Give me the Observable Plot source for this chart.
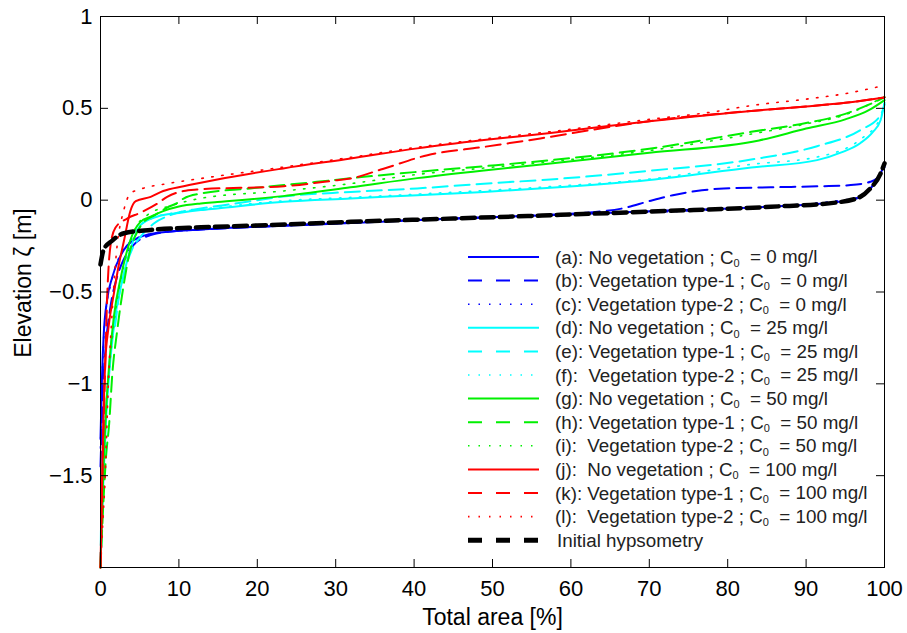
<!DOCTYPE html>
<html><head><meta charset="utf-8">
<script src="https://cdn.jsdelivr.net/npm/d3@7"></script>
<script src="https://cdn.jsdelivr.net/npm/@observablehq/plot@0.6"></script>
<style>body{margin:0;background:#fff}svg{display:block}</style>
</head><body><div id="chart"></div>
<script>
// ---- data: [total area %, elevation m] ----
const seriesA = [[0,-1.3],[0.2,-0.95],[0.4,-0.74],[0.85,-0.54],[1.5,-0.42],[3,-0.27],[5.1,-0.2],[7.2,-0.178],[12.8,-0.16],[20,-0.145],[32,-0.125],[45,-0.1],[57,-0.082],[70,-0.06],[85.5,-0.035],[94,-0.01],[97,0.018],[98.2,0.064],[99.5,0.145],[100,0.2]];
const seriesB = [[0,-1.45],[0.3,-1.05],[0.7,-0.78],[1.2,-0.6],[2.1,-0.42],[3,-0.32],[4.2,-0.245],[6.4,-0.19],[9,-0.17],[12.8,-0.16],[20,-0.145],[32,-0.122],[45,-0.1],[57,-0.08],[62,-0.068],[66.7,-0.044],[70,-0.005],[73,0.027],[76,0.05],[79.5,0.064],[85.5,0.07],[92,0.076],[95.7,0.082],[98.2,0.1],[99.5,0.136],[100,0.18]];
const seriesC = [[0,-1.35],[0.3,-0.85],[0.7,-0.6],[1.3,-0.46],[2.5,-0.3],[4.5,-0.21],[7,-0.18],[12.8,-0.16],[32,-0.124],[57,-0.082],[85.5,-0.034],[97,0.018],[98.2,0.064],[99.5,0.145],[100,0.2]];
const seriesD = [[0,-2],[0.3,-1.6],[0.7,-1.2],[1.3,-0.85],[2,-0.6],[2.8,-0.435],[4.2,-0.218],[5.1,-0.136],[7.2,-0.09],[10,-0.07],[12.8,-0.054],[14.9,-0.045],[23.4,-0.009],[31.9,0.009],[40.4,0.027],[48.9,0.045],[57.4,0.067],[70,0.11],[83,0.178],[91.4,0.218],[94.5,0.26],[96.9,0.31],[98.5,0.37],[99.5,0.435],[100,0.53]];
const seriesE = [[0,-2],[0.13,-1.6],[0.4,-1.34],[0.85,-1.07],[1.3,-0.8],[1.9,-0.67],[2.3,-0.54],[3,-0.4],[4,-0.27],[5.1,-0.2],[6.8,-0.127],[9,-0.08],[12.8,-0.045],[17,-0.02],[23.3,0.02],[31.9,0.045],[40.4,0.064],[48.9,0.09],[57.4,0.113],[70,0.16],[83,0.221],[91.4,0.294],[96.9,0.381],[99.5,0.463],[100,0.52]];
const seriesF = [[0,-2],[0.3,-1.5],[0.8,-1.05],[1.5,-0.75],[2.3,-0.5],[3.3,-0.3],[4.6,-0.16],[6.5,-0.1],[10,-0.065],[14.9,-0.04],[23.4,-0.003],[31.9,0.015],[40.4,0.033],[48.9,0.052],[57.4,0.074],[70,0.115],[83,0.195],[91.4,0.235],[96.9,0.33],[99.5,0.45],[100,0.53]];
const seriesG = [[0,-2],[0.3,-1.55],[0.7,-1.15],[1.2,-0.85],[1.7,-0.635],[2.6,-0.418],[3.8,-0.218],[5.1,-0.118],[6.4,-0.09],[8,-0.06],[10,-0.035],[12.8,-0.018],[14.9,-0.01],[23.3,0.022],[31.9,0.07],[40.4,0.12],[48.9,0.162],[57.4,0.2],[70,0.258],[84,0.325],[90,0.39],[95,0.44],[98,0.49],[100,0.545]];
const seriesH = [[0,-2],[0.2,-1.8],[0.7,-1.4],[1.1,-1.22],[1.5,-0.95],[2.1,-0.72],[3,-0.45],[3.8,-0.27],[4.6,-0.18],[5.5,-0.12],[7,-0.08],[8.5,-0.04],[9.8,-0.015],[10.6,0.009],[12.8,0.036],[19.1,0.064],[27.6,0.1],[33.6,0.127],[40.4,0.154],[48.9,0.185],[57.4,0.218],[70,0.28],[83,0.372],[90,0.42],[95,0.47],[98,0.52],[100,0.56]];
const seriesI = [[0,-2],[0.4,-1.5],[0.9,-1.05],[1.5,-0.75],[2.3,-0.5],[3.3,-0.3],[4.5,-0.15],[6,-0.08],[9,-0.03],[12.8,0.01],[23.3,0.05],[31.9,0.09],[40.4,0.14],[48.9,0.175],[57.4,0.21],[70,0.27],[83,0.36],[90,0.415],[95,0.465],[98,0.52],[100,0.565]];
const seriesJ = [[0,-2],[0.2,-1.52],[0.6,-0.89],[1,-0.7],[1.7,-0.51],[2.3,-0.36],[3,-0.22],[3.8,-0.06],[4.5,-0.005],[6.4,0.018],[8,0.05],[10.6,0.076],[14.9,0.113],[23.3,0.173],[31.9,0.227],[40.4,0.282],[48.9,0.327],[57.4,0.366],[70,0.43],[83,0.486],[90,0.51],[95,0.53],[100,0.559]];
const seriesK = [[0,-2],[0.3,-1.4],[0.6,-0.9],[0.85,-0.53],[1.3,-0.24],[1.9,-0.15],[3.4,-0.1],[5,-0.07],[7.2,-0.02],[8.5,0.018],[10.6,0.05],[12.3,0.058],[23.4,0.076],[30.2,0.109],[31.9,0.118],[36,0.17],[41.7,0.245],[48.9,0.29],[56.1,0.336],[63,0.385],[70,0.43],[83,0.486],[90,0.51],[95,0.53],[100,0.559]];
const seriesL = [[0,-2],[0.3,-1.75],[0.6,-1.5],[1,-1],[1.5,-0.6],[2,-0.3],[3,-0.05],[3.8,0.036],[5.1,0.06],[8.5,0.09],[12.8,0.118],[23.3,0.18],[31.9,0.233],[40.4,0.288],[48.9,0.333],[57.4,0.373],[70,0.44],[78,0.48],[83,0.515],[90,0.55],[95,0.58],[100,0.625]];
const seriesInitial = [[0,-0.35],[0.4,-0.27],[1.5,-0.22],[3,-0.18],[6.4,-0.162],[12.8,-0.148],[20,-0.138],[31.9,-0.118],[45,-0.1],[57.4,-0.082],[70,-0.062],[85.5,-0.036],[94,-0.012],[96.9,0.018],[98.2,0.064],[99.5,0.145],[100,0.2]];

const seriesLetters = ["a","b","c","d","e","f","g","h","i","j","k","l"];
const seriesNames = ["No vegetation","Vegetation type-1","Vegetation type-2","No vegetation","Vegetation type-1","Vegetation type-2","No vegetation","Vegetation type-1","Vegetation type-2","No vegetation","Vegetation type-1","Vegetation type-2"];
const concentrations = [0,0,0,25,25,25,50,50,50,100,100,100];
const initialLabel = "Initial hypsometry";
const xTicks = [0,10,20,30,40,50,60,70,80,90,100];
const yTicks = [-1.5,-1,-0.5,0,0.5,1];
const xLabel = "Total area [%]";
const yLabel = "Elevation ζ [m]";

// ---- styles ----
const palette = ["#0000ff","#0000ff","#0000ff","#00ffff","#00ffff","#00ffff","#00f000","#00f000","#00f000","#ff0000","#ff0000","#ff0000"];
const dashKinds = ["solid","dashed","dotted"];
const dashPlot = {solid: null, dashed: "15,7", dotted: "1.5,8.5"};
const dashLegend = {solid: null, dashed: "14,14", dotted: "1.5,9"};
const widthOf = {solid: 2, dashed: 2, dotted: 1.6};
const doubleSpaced = new Set(["f","i","j","l"]);

const allSeries = [seriesA,seriesB,seriesC,seriesD,seriesE,seriesF,seriesG,seriesH,seriesI,seriesJ,seriesK,seriesL];

const W = 907, H = 633, mL = 100, mR = 23, mT = 16, mB = 66;
const innerW = W - mL - mR, innerH = H - mT - mB;
const tickLen = 8;
const fontStack = "'Liberation Sans', Arial, sans-serif";

const marks = [];
allSeries.forEach((s, i) => {
  const kind = dashKinds[i % 3];
  marks.push(Plot.line(s, {x: d => d[0], y: d => d[1], stroke: palette[i], strokeWidth: widthOf[kind],
    strokeDasharray: dashPlot[kind], curve: "monotone-x"}));
});
marks.push(Plot.line(seriesInitial, {x: d => d[0], y: d => d[1], stroke: "black", strokeWidth: 4.5, strokeDasharray: "13,6", curve: "monotone-x"}));

marks.push(Plot.frame({stroke: "black", strokeWidth: 1}));
marks.push(Plot.tickX(xTicks, {x: d => d, insetTop: innerH - tickLen, stroke: "black"}));
marks.push(Plot.tickX(xTicks, {x: d => d, insetBottom: innerH - tickLen, stroke: "black"}));
marks.push(Plot.tickY(yTicks, {y: d => d, insetRight: innerW - tickLen, stroke: "black"}));
marks.push(Plot.tickY(yTicks, {y: d => d, insetLeft: innerW - tickLen, stroke: "black"}));
marks.push(Plot.axisX(xTicks, {tickSize: 0, tickPadding: 13, label: null, fontSize: 22}));
marks.push(Plot.axisY(yTicks, {tickSize: 0, tickPadding: 8, label: null, fontSize: 22,
  tickFormat: d => d < 0 ? "\u2212" + Math.abs(d) : String(d)}));
marks.push(Plot.text([xLabel], {text: d => d, frameAnchor: "bottom", textAnchor: "middle", lineAnchor: "middle", dy: 50, fontSize: 23}));
marks.push(Plot.text([yLabel], {text: d => d, frameAnchor: "left", textAnchor: "middle", lineAnchor: "middle", dx: -77, dy: -9, rotate: -90, fontSize: 23}));

const plot = Plot.plot({
  width: W, height: H,
  marginLeft: mL, marginRight: mR, marginTop: mT, marginBottom: mB,
  x: {domain: [0, 100]},
  y: {domain: [-2, 1]},
  style: {fontFamily: fontStack, fontSize: "22px", color: "black", background: "white"},
  marks
});
document.getElementById("chart").append(plot);

// ---- legend ----
const svg = d3.select(plot);
const lg = svg.append("g").attr("font-family", fontStack).attr("font-size", 18.8)
  .attr("fill", "#222").attr("text-anchor", "start");
const lx1 = 468, lx2 = 539, tx = 555, y0 = 257, step = 23.6;
seriesLetters.forEach((letter, i) => {
  const kind = dashKinds[i % 3];
  const y = y0 + i * step;
  lg.append("line").attr("x1", lx1).attr("x2", lx2).attr("y1", y).attr("y2", y)
    .attr("stroke", palette[i]).attr("stroke-width", widthOf[kind])
    .attr("stroke-dasharray", dashLegend[kind]);
  const extra = doubleSpaced.has(letter) ? "  " : " ";
  const t = lg.append("text").attr("x", tx).attr("y", y).attr("dy", "0.35em").style("white-space", "pre");
  t.append("tspan").text(`(${letter}):${extra}${seriesNames[i]} ; C`);
  t.append("tspan").attr("font-size", 11).attr("dy", "0.3em").text("0");
  t.append("tspan").attr("dy", "-0.18em").text(`  = ${concentrations[i]} mg/l`);
});
{
  const y = y0 + 12 * step;
  lg.append("line").attr("x1", lx1).attr("x2", lx2).attr("y1", y).attr("y2", y)
    .attr("stroke", "black").attr("stroke-width", 5).attr("stroke-dasharray", "14,14");
  lg.append("text").attr("x", tx + 2).attr("y", y).attr("dy", "0.35em").text(initialLabel);
}
</script></body></html>
